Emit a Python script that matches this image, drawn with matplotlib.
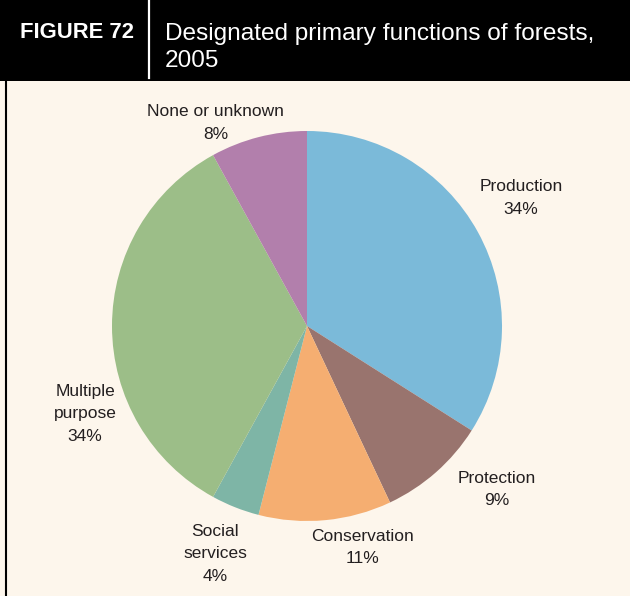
import matplotlib
matplotlib.use("Agg")
import matplotlib.pyplot as plt
from matplotlib.patches import Rectangle
from matplotlib.lines import Line2D

plt.rcParams['font.family'] = ['Liberation Sans', 'DejaVu Sans']

# data (percent of forest area)
functions = ["Production", "Protection", "Conservation",
             "Social\nservices", "Multiple\npurpose", "None or unknown"]
shares = [34, 9, 11, 4, 34, 8]
colors = ["#7BBAD9", "#99746E", "#F5AE71", "#7EB5A6", "#9CBE88", "#B27FAC"]

# where each label sits, in pie-radius units
label_xy = [(1.097, 0.656), (0.974, -0.838), (0.287, -1.136),
            (-0.472, -1.169), (-1.138, -0.451), (-0.467, 1.041)]

W, H = 630, 596
bg = "#FDF6EC"
fig = plt.figure(figsize=(W / 100, H / 100), dpi=100, facecolor=bg)

# pie centre at (307, 326) px, radius 195 px
R = 195.0
cx, cy = 307.0, 326.0
ax = fig.add_axes([0, 0, 1, 1])
ax.set_facecolor(bg)
wedges, _ = ax.pie(shares, colors=colors, startangle=90, counterclock=False,
                   radius=1.0, wedgeprops=dict(linewidth=0))
ax.set_xlim(-cx / R, (W - cx) / R)
ax.set_ylim((cy - H) / R, cy / R)
ax.set_aspect("auto")
ax.axis("off")

for name, v, (x, y) in zip(functions, shares, label_xy):
    ax.text(x, y, f"{name}\n{v}%", ha="center", va="center", fontsize=12.5,
            color="#231F20", linespacing=1.6)

# header band
hh = 81
fig.patches.append(Rectangle((0, 1 - hh / H), 1, hh / H, transform=fig.transFigure,
                             facecolor="black", edgecolor="none", zorder=5))
fig.lines.append(Line2D([149 / W, 149 / W], [1, 1 - 78 / H], transform=fig.transFigure,
                        color="white", lw=1.6, zorder=6))
fig.lines.append(Line2D([5.5 / W, 5.5 / W], [1 - hh / H, 0], transform=fig.transFigure,
                        color="black", lw=1.5, zorder=6))

fig.text(20 / W, 1 - 38 / H, "FIGURE 72", color="white", fontsize=15.8,
         fontweight="bold", ha="left", va="baseline", zorder=7)
# va="baseline" on two lines anchors the last line
fig.text(165 / W, 1 - 67 / H, "Designated primary functions of forests,\n2005",
         color="white", fontsize=17.6, ha="left", va="baseline", linespacing=1.27,
         zorder=7)

fig.savefig("out.png", dpi=100, facecolor=bg)
